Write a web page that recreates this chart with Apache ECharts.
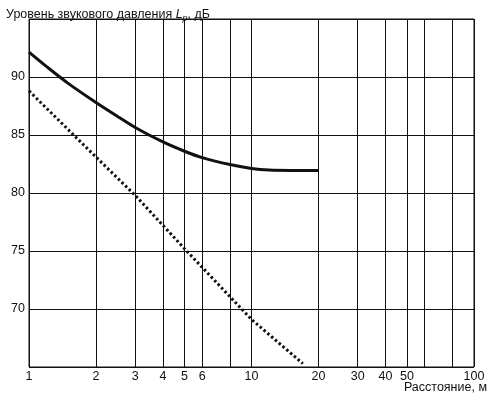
<!DOCTYPE html>
<html><head><meta charset="utf-8">
<script src="https://cdn.jsdelivr.net/npm/echarts@6/dist/echarts.min.js"></script>
<style>html,body{margin:0;padding:0;background:#fff}#c{width:489px;height:394px}</style>
</head><body><div id="c"></div>
<script>
const gridX = [1, 2, 3, 4, 5, 6, 8, 10, 20, 30, 40, 50, 60, 80, 100];
const labelX = [1, 2, 3, 4, 5, 6, 10, 20, 30, 40, 50, 100];
const labelY = [70, 75, 80, 85, 90];
const solidX = [1, 1.2, 1.5, 2, 2.5, 3, 4, 5, 6, 8, 10, 12, 15, 20];
const solidY = [92.15, 90.9, 89.45, 87.8, 86.6, 85.65, 84.4, 83.6, 83.05, 82.45, 82.12, 81.98, 81.95, 81.95];
const dotX = [1, 2, 3, 5, 10, 17];
const dotY = [88.8, 83.1, 79.8, 75.2, 69.1, 65.3];

const chart = echarts.init(document.getElementById('c'), null, {renderer: 'canvas'});
const ff = '"Liberation Sans", Arial, sans-serif';
chart.setOption({
  animation: false,
  backgroundColor: '#fff',
  textStyle: {fontFamily: ff},
  title: {
    left: 1, top: 2,
    text: '{a|Уровень звукового давления }{i|L}{s|p}{a|, дБ}',
    textStyle: {
      fontWeight: 'normal',
      rich: {
        a: {fontSize: 12.5, color: '#111', fontFamily: ff, fontWeight: 'normal'},
        i: {fontSize: 12.5, color: '#111', fontFamily: ff, fontStyle: 'italic', fontWeight: 'normal'},
        s: {fontSize: 9, color: '#111', fontFamily: ff, fontStyle: 'italic', fontWeight: 'normal', padding: [7, 0, 0, 0]}
      }
    }
  },
  graphic: [{
    type: 'text', right: 2, top: 381,
    style: {text: 'Расстояние, м', fontSize: 12.5, fill: '#111', fontFamily: ff}
  }],
  grid: {left: 29, right: 15, top: 19, bottom: 27, show: true, borderColor: '#111', borderWidth: 1},
  xAxis: {
    type: 'log', logBase: 10, min: 1, max: 100,
    axisLine: {show: false},
    axisTick: {show: false, customValues: gridX},
    axisLabel: {customValues: labelX, color: '#111', fontSize: 12.5, margin: 3},
    splitLine: {show: true, lineStyle: {color: '#111', width: 1}},
    minorSplitLine: {show: false}
  },
  yAxis: {
    type: 'value', min: 65, max: 95, interval: 5,
    axisLine: {show: false},
    axisTick: {show: false},
    axisLabel: {customValues: labelY, color: '#111', fontSize: 12.5, margin: 4},
    splitLine: {show: true, lineStyle: {color: '#111', width: 1}}
  },
  series: [
    {
      type: 'line', smooth: 0.3, symbol: 'none',
      data: solidX.map((x, i) => [x, solidY[i]]),
      lineStyle: {color: '#111', width: 3}
    },
    {
      type: 'line', smooth: false, symbol: 'none',
      data: dotX.map((x, i) => [x, dotY[i]]),
      lineStyle: {color: '#111', width: 3, type: [2.5, 2.5]}
    }
  ]
});
</script></body></html>
